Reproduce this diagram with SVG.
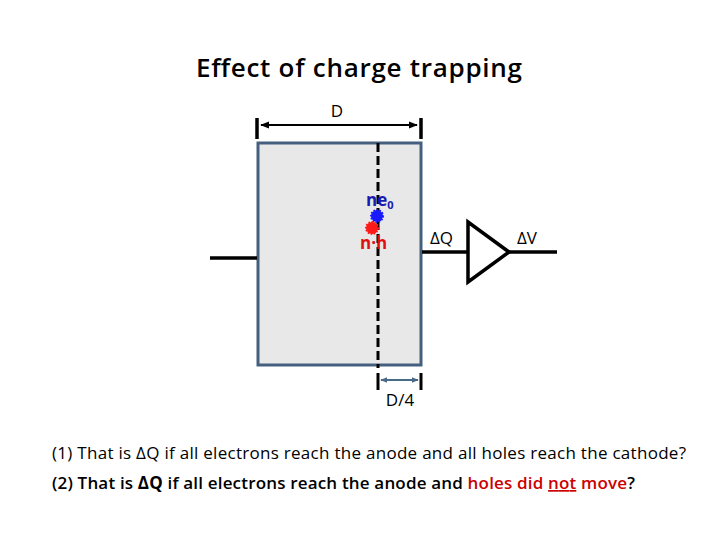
<svg xmlns="http://www.w3.org/2000/svg" width="720" height="540" viewBox="0 0 720 540">
<defs>
<marker id="ah" viewBox="0 0 10 10" refX="9" refY="5" markerWidth="4.5" markerHeight="4.5" orient="auto-start-reverse"><path d="M0,1 L10,5 L0,9 z" fill="#000"/></marker>
<marker id="ahb" viewBox="0 0 10 10" refX="9" refY="5" markerWidth="3.5" markerHeight="3.5" orient="auto-start-reverse"><path d="M0,1 L10,5 L0,9 z" fill="#4a6a8a"/></marker>
</defs>
<style>
text{font-family:"Open Sans","Liberation Sans",sans-serif}
.t{font-size:17px}
.k{stroke:#000;stroke-width:3.5;fill:none}
</style>
<rect width="720" height="540" fill="#fff"/>
<text x="359" y="77" text-anchor="middle" font-size="26" style="font-weight:600" textLength="326">Effect of charge trapping</text>
<g id="detector">
<rect x="258" y="143" width="163" height="222" fill="#e8e8e8" stroke="#44607e" stroke-width="3"/>
</g>
<g id="connectors">
<line x1="257" y1="118" x2="257" y2="139" class="k"/>
<line x1="421" y1="118" x2="421" y2="139" class="k"/>
<line x1="261" y1="125" x2="417" y2="125" stroke="#000" stroke-width="2" marker-start="url(#ah)" marker-end="url(#ah)"/>
<line x1="378" y1="143" x2="378" y2="368" stroke="#000" stroke-width="3" stroke-dasharray="9,4"/>
<line x1="210" y1="258" x2="257" y2="258" class="k"/>
<line x1="422" y1="252" x2="468" y2="252" class="k"/>
<line x1="509" y1="252" x2="557" y2="252" class="k"/>
<line x1="378" y1="373" x2="378" y2="390" stroke="#000" stroke-width="3"/>
<line x1="421" y1="373" x2="421" y2="390" stroke="#000" stroke-width="3"/>
<line x1="381" y1="380" x2="418" y2="380" stroke="#4a6a8a" stroke-width="2" marker-start="url(#ahb)" marker-end="url(#ahb)"/>
</g>
<g id="amplifier">
<polygon points="468,222 468,282 509,252" fill="#fff" stroke="#000" stroke-width="3.5"/>
</g>
<g id="charges">
<circle cx="377" cy="216" r="6" fill="#1a1aff" stroke="#1a1aff" stroke-width="2" stroke-dasharray="1.5,1.5"/>
<circle cx="372" cy="228" r="6" fill="#ff1a1a" stroke="#ff1a1a" stroke-width="2" stroke-dasharray="1.5,1.5"/>
<text x="366" y="206" font-size="17" font-weight="bold" fill="#1a1ab0">ne<tspan font-size="11" dy="3">0</tspan></text>
<text x="360" y="249" font-size="17" font-weight="bold" fill="#e01010">n·h</text>
</g>
<g id="labels">
<text x="337" y="117" text-anchor="middle" class="t">D</text>
<text x="400" y="406" text-anchor="middle" class="t">D/4</text>
<text x="430" y="244" class="t" font-size="18">ΔQ</text>
<text x="517" y="244" class="t" font-size="18">ΔV</text>
<text x="52" y="459" class="t" textLength="634">(1) That is ΔQ if all electrons reach the anode and all holes reach the cathode?</text>
<text x="52" y="489" class="t" style="font-weight:600" textLength="583">(2) That is <tspan font-weight="bold">ΔQ</tspan> if all electrons reach the anode and <tspan fill="#cc0000">holes did <tspan text-decoration="underline">not</tspan> move</tspan>?</text>
</g>
</svg>
